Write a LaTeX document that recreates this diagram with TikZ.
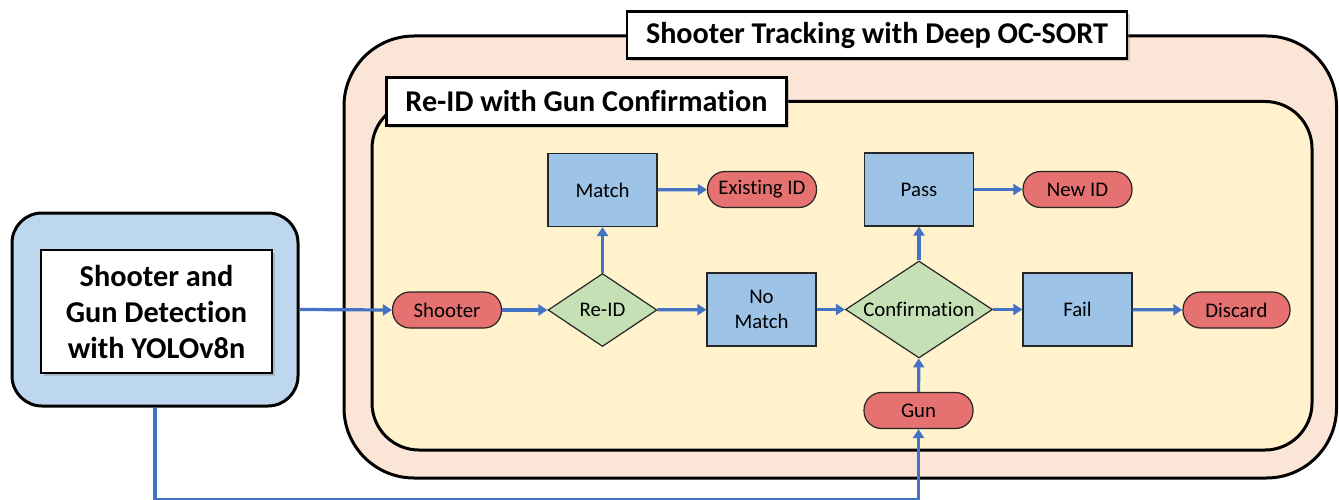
\documentclass[tikz,border=0pt]{standalone}
\usepackage{fontspec}
\setmainfont{Carlito}[Ligatures=NoCommon]
\usetikzlibrary{arrows.meta,shapes.geometric,shadows}
\definecolor{detblue}{HTML}{BDD7EE}
\definecolor{salmonbg}{HTML}{FBE5D6}
\definecolor{yellowbg}{HTML}{FFF2CC}
\definecolor{rectblue}{HTML}{9DC3E6}
\definecolor{pillred}{HTML}{E57171}
\definecolor{diagreen}{HTML}{C5E0B4}
\definecolor{arrowblue}{HTML}{4472C4}
\tikzset{
  container/.style={draw=black, line width=3pt},
  titlebox/.style={draw=black, line width=2.6pt, fill=white, inner sep=0pt,
    drop shadow={shadow xshift=2.5pt, shadow yshift=-2.5pt, opacity=0.35}},
  procbox/.style={draw=black!85, line width=1.2pt, fill=rectblue, minimum width=109pt,
    minimum height=73pt, inner sep=0pt, align=center, font=\fontsize{20.8}{25}\selectfont},
  pill/.style={draw=black!85, line width=1.2pt, fill=pillred, minimum width=109pt,
    minimum height=36pt, rounded corners=17.5pt, inner sep=0pt, font=\fontsize{20.8}{24}\selectfont},
  decision/.style={diamond, draw=black!85, line width=1.2pt, fill=diagreen, inner sep=0pt,
    font=\fontsize{20.8}{24}\selectfont},
  flow/.style={draw=arrowblue, line width=3.2pt, -{Triangle[width=11pt,length=9pt]}}
}
\begin{document}
\begin{tikzpicture}[x=1pt,y=-1pt]
\useasboundingbox (0,0) rectangle (1339,500);

% containers
\draw[container, fill=salmonbg, rounded corners=70pt] (344,36) rectangle (1336.5,478);
\draw[container, fill=yellowbg, rounded corners=47pt] (372,101.5) rectangle (1312,450);
\node[titlebox, minimum width=500pt, minimum height=47pt, font=\bfseries\fontsize{30}{32}\selectfont] (ttrack) at (877,35) {\resizebox{462pt}{!}{Shooter Tracking with Deep OC-SORT}};
\node[titlebox, minimum width=400pt, minimum height=48pt, font=\bfseries\fontsize{28}{30}\selectfont] (treid) at (586.5,101.5) {\resizebox{362pt}{!}{Re-ID with Gun Confirmation}};

% detection box
\node[draw=black, line width=3pt, fill=detblue, rounded corners=30pt, minimum width=286pt,
  minimum height=193pt] (det) at (155,309.5) {};
\node[draw=black, line width=2.6pt, fill=white, minimum width=231pt, minimum height=123pt,
  inner sep=0pt, align=center, font=\bfseries\fontsize{30.3}{36}\selectfont,
  drop shadow={shadow xshift=2.5pt, shadow yshift=-2.5pt, opacity=0.35}] (dettext) at (156.5,311.5)
  {Shooter and\\Gun Detection\\with YOLOv8n};

% flow nodes
\node[pill] (shooter) at (447,310) {Shooter};
\node[decision, minimum width=109pt, minimum height=73pt] (reid) at (602.5,310) {\makebox[0pt]{Re-ID}};
\node[procbox] (match) at (602.5,190) {Match};
\node[pill] (existing) at (762,189.5) {Existing ID};
\node[procbox] (nomatch) at (761.5,309.5) {No\\Match};
\node[decision, minimum width=147pt, minimum height=97pt] (conf) at (919,309.5) {\makebox[0pt]{Confirmation}};
\node[procbox] (pass) at (919,189.5) {Pass};
\node[pill] (newid) at (1077.5,189.5) {New ID};
\node[procbox] (fail) at (1077.5,309.5) {Fail};
\node[pill, minimum width=107pt] (discard) at (1236.5,310) {Discard};
\node[pill] (gun) at (918.5,410.5) {Gun};

% connectors
\coordinate (bl) at (155,499.5);
\draw[flow] (det.east) -- (shooter.west);
\draw[flow] (shooter) -- (reid);
\draw[flow] (reid) -- (match);
\draw[flow] (match) -- (existing);
\draw[flow] (reid) -- (nomatch);
\draw[flow] (nomatch) -- (conf);
\draw[flow] (conf) -- (pass);
\draw[flow] (pass) -- (newid);
\draw[flow] (conf) -- (fail);
\draw[flow] (fail) -- (discard);
\draw[flow] (gun) -- (conf);
\draw[flow] (det.south) -- (bl) -| (gun.south);
\end{tikzpicture}
\end{document}
